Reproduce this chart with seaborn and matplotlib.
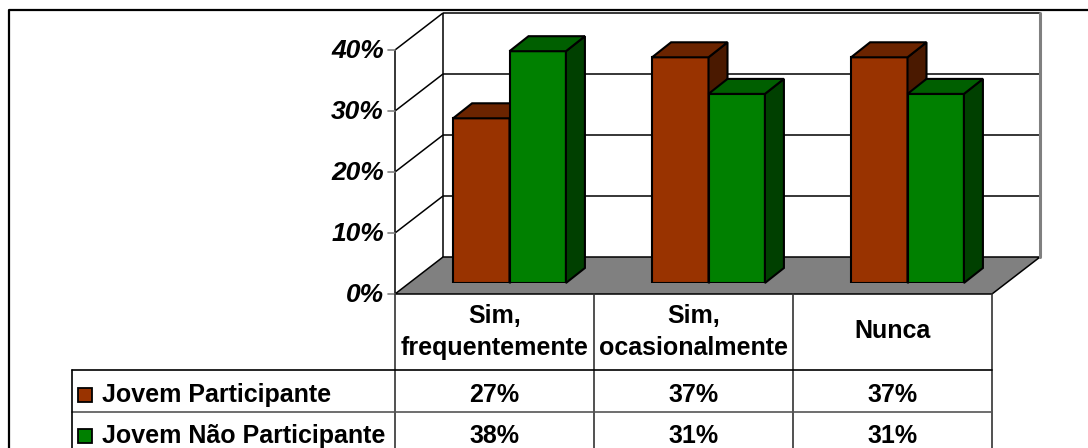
import matplotlib
matplotlib.use("Agg")
import matplotlib.pyplot as plt
import numpy as np
import pandas as pd
import seaborn as sns
from matplotlib.patches import Polygon, Rectangle
from matplotlib.transforms import IdentityTransform

# ---- data -------------------------------------------------------------
categorias = ["Sim,\nfrequentemente", "Sim,\nocasionalmente", "Nunca"]
grupos = ["Jovem Participante", "Jovem Não Participante"]
participante = [27, 37, 37]
nao_participante = [38, 31, 31]
ticks = [0, 10, 20, 30, 40]
tick_labels = ["0%", "10%", "20%", "30%", "40%"]

cores_frente = ["#993300", "#008000"]
cores_topo = ["#6B2400", "#005F00"]
cores_lado = ["#4A1900", "#004000"]

df = pd.DataFrame({
    "categoria": categorias * 2,
    "grupo": [grupos[0]] * 3 + [grupos[1]] * 3,
    "valor": participante + nao_participante,
})

# ---- figure ---------------------------------------------------------------
W, H = 1088, 448
sns.set_theme(style="white")
plt.rcParams["font.family"] = ["Liberation Sans", "DejaVu Sans"]

fig = plt.figure(figsize=(W / 100, H / 100), dpi=100)
bg = fig.add_axes([0, 0, 1, 1])
bg.set_xlim(0, W)
bg.set_ylim(H, 0)
bg.axis("off")

# 3-D box geometry (pixels, y pointing down)
X0, X1 = 395, 992          # front edge of the floor
Y0 = 294                   # front baseline (0 %)
PX = 6.1                   # pixels per percentage point
DX, DY = 48, 37            # floor depth
OFX, OFY = 15, 11          # bar front plane behind the floor edge
BDX, BDY = 19, 15          # bar depth
VMAX = ticks[-1]


def front_y(v):
    return Y0 - PX * v


def back_y(v):
    return front_y(v) - DY


LINE = dict(color="black", lw=1.1, solid_capstyle="butt")

# outer frame
bg.plot([9, 9, W], [H, 10, 10], color="black", lw=1.6)

# back wall and left wall with gridlines
for v in ticks[1:]:
    bg.plot([X0 + DX, X1 + DX], [back_y(v), back_y(v)], **LINE)
    bg.plot([X0, X0 + DX], [front_y(v), back_y(v)], **LINE)
bg.plot([X0 + DX, X0 + DX], [back_y(0), back_y(VMAX)], **LINE)
bg.plot([X1 + DX, X1 + DX], [back_y(0), back_y(VMAX)], color="#808080", lw=2.2)
bg.plot([X0, X0], [front_y(0), front_y(VMAX)], **LINE)

# floor
bg.add_patch(Polygon([(X0, Y0), (X1, Y0), (X1 + DX, Y0 - DY), (X0 + DX, Y0 - DY)],
                     closed=True, facecolor="#808080", edgecolor="black", lw=1.1))

# value axis ticks and labels
for v, lab in zip(ticks, tick_labels):
    bg.plot([X0 - 7, X0], [front_y(v), front_y(v)], color="#808080", lw=1.2)
    bg.text(X0 - 11, front_y(v) + 1, lab, ha="right", va="center",
            fontsize=19, fontweight="bold", fontstyle="italic", color="black")

# ---- bars (front faces through seaborn) -----------------------------------
ax = fig.add_axes([(X0 + OFX) / W, (H - (Y0 - OFY)) / H,
                   (X1 - X0) / W, (PX * VMAX) / H])
ax.set_zorder(2)
sns.barplot(data=df, x="categoria", y="valor", hue="grupo", order=categorias,
            hue_order=grupos, palette=cores_frente, saturation=1, width=0.567,
            edgecolor="black", linewidth=1.5, legend=False, ax=ax)
ax.set_xlim(-0.5, len(categorias) - 0.5)
ax.set_ylim(0, VMAX)
ax.axis("off")

# extrude every bar: side and top faces, painted left to right
faces = []
for k, cont in enumerate(ax.containers):
    for p in cont.patches:
        faces.append((p.get_x(), k, p))
faces.sort(key=lambda t: t[0])
to_px = ax.transData
for rank, (_, k, p) in enumerate(faces):
    x, w, h = p.get_x(), p.get_width(), p.get_height()
    xl, yb = to_px.transform((x, 0))
    xr, yt = to_px.transform((x + w, h))
    z = 10 + 3 * rank
    p.set_zorder(z)
    p.set_joinstyle("miter")
    side = Polygon([(xr, yb), (xr + BDX, yb + BDY), (xr + BDX, yt + BDY), (xr, yt)],
                   closed=True, facecolor=cores_lado[k], edgecolor="black", lw=1.5,
                   transform=IdentityTransform(), clip_on=False, zorder=z + 1,
                   joinstyle="miter")
    top = Polygon([(xl, yt), (xr, yt), (xr + BDX, yt + BDY), (xl + BDX, yt + BDY)],
                  closed=True, facecolor=cores_topo[k], edgecolor="black", lw=1.5,
                  transform=IdentityTransform(), clip_on=False, zorder=z + 2,
                  joinstyle="miter")
    ax.add_patch(side)
    ax.add_patch(top)

# ---- data table -----------------------------------------------------------
cols = np.linspace(X0, X1, len(categorias) + 1)
centers = (cols[:-1] + cols[1:]) / 2
ROW_TOP, ROW_MID = 370, 412
LEG_X = 72
TCOL = "#333333"
FS = 18

for cx in cols:
    bg.plot([cx, cx], [Y0, H], color=TCOL, lw=1.2)
bg.plot([LEG_X, X1], [ROW_TOP, ROW_TOP], color="black", lw=1.2)
bg.plot([LEG_X, X1], [ROW_MID, ROW_MID], color="#555555", lw=1.2)
bg.plot([LEG_X, LEG_X], [ROW_TOP, H], color="black", lw=1.2)

for cx, cat in zip(centers, categorias):
    linhas = cat.split("\n")
    bases = [323, 355] if len(linhas) == 2 else [338]
    for txt, b in zip(linhas, bases):
        bg.text(cx, b, txt, ha="center", va="baseline", fontsize=FS,
                fontweight="bold", color="black")

series = [participante, nao_participante]
row_base = [402, 443]
for k, (nome, vals) in enumerate(zip(grupos, series)):
    b = row_base[k]
    bg.add_patch(Rectangle((78, b - 14), 14, 14, facecolor=cores_frente[k],
                           edgecolor="black", lw=1.3))
    bg.text(102, b, nome, ha="left", va="baseline", fontsize=FS,
            fontweight="bold", color="black")
    for cx, v in zip(centers, vals):
        bg.text(cx, b, f"{v}%", ha="center", va="baseline", fontsize=FS,
                fontweight="bold", color="black")

fig.savefig("out.png", dpi=100)
